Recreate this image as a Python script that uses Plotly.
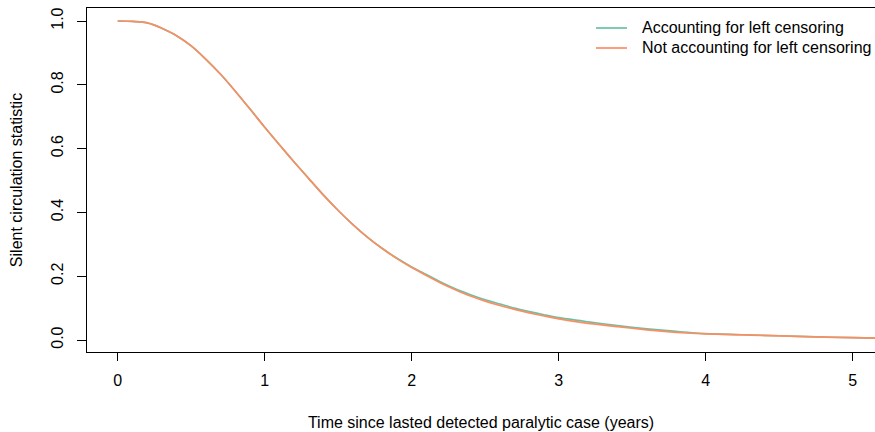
import plotly.graph_objects as go

# Time since last detected paralytic case (years)
time_years = [0.0, 0.1, 0.15, 0.2, 0.25, 0.3, 0.4, 0.5, 0.6, 0.7, 0.8, 0.9, 1.0, 1.1, 1.2, 1.3, 1.4,
              1.5, 1.6, 1.7, 1.8, 1.9, 2.0, 2.1, 2.2, 2.3, 2.4, 2.5, 2.6, 2.7, 2.8, 2.9,
              3.0, 3.2, 3.4, 3.6, 3.8, 4.0, 4.25, 4.5, 4.75, 5.0, 5.2]

not_accounting = [1.000, 0.999, 0.997, 0.994, 0.987, 0.977, 0.954, 0.922, 0.880, 0.833, 0.780, 0.724,
                  0.667, 0.612, 0.558, 0.506, 0.454, 0.406, 0.362, 0.322, 0.287, 0.255,
                  0.227, 0.202, 0.178, 0.157, 0.138, 0.122, 0.108, 0.096, 0.085, 0.0753,
                  0.066, 0.052, 0.042, 0.032, 0.024, 0.019, 0.016, 0.013, 0.0098, 0.0072, 0.0055]

accounting = [1.000, 0.999, 0.997, 0.994, 0.987, 0.977, 0.954, 0.922, 0.880, 0.833, 0.780, 0.724,
              0.667, 0.612, 0.558, 0.506, 0.454, 0.406, 0.362, 0.322, 0.287, 0.256,
              0.229, 0.205, 0.181, 0.160, 0.142, 0.126, 0.113, 0.100, 0.089, 0.0793,
              0.070, 0.057, 0.045, 0.035, 0.027, 0.020, 0.0165, 0.0133, 0.0100, 0.0073, 0.0056]

x_ticks = [0, 1, 2, 3, 4, 5]
y_ticks = [0.0, 0.2, 0.4, 0.6, 0.8, 1.0]
y_tick_labels = ["0.0", "0.2", "0.4", "0.6", "0.8", "1.0"]

series_names = ["Accounting for left censoring", "Not accounting for left censoring"]
series_colors = ["#66C2A5", "#FC8D62"]
series_values = [accounting, not_accounting]

FONT = "Liberation Sans, Arial, sans-serif"
W, H = 875, 432
ML, MR, MT, MB = 87, 0, 8, 80
PW, PH = W - ML - MR, H - MT - MB


def px_to_paper_x(px):
    return (px - ML) / PW


def px_to_paper_y(py):
    return (H - MB - py) / PH


fig = go.Figure()
for name, color, vals in zip(series_names, series_colors, series_values):
    fig.add_trace(go.Scatter(x=time_years, y=vals, mode="lines", name=name,
                             line=dict(color=color, width=1.7, shape="spline", smoothing=0.6),
                             showlegend=False))

# manual legend (top right, like R's legend with bty="n")
legend_rows_px = [28, 48]
for name, color, row in zip(series_names, series_colors, legend_rows_px):
    yp = px_to_paper_y(row)
    fig.add_shape(type="line", xref="paper", yref="paper",
                  x0=px_to_paper_x(596), x1=px_to_paper_x(627), y0=yp, y1=yp,
                  line=dict(color=color, width=1.7))
    fig.add_annotation(xref="paper", yref="paper", x=px_to_paper_x(640), y=yp,
                       text=name, showarrow=False, xanchor="left", yanchor="middle",
                       font=dict(family=FONT, size=16, color="black"))

fig.update_layout(
    width=W, height=H,
    margin=dict(l=ML, r=MR, t=MT, b=MB),
    paper_bgcolor="white", plot_bgcolor="white",
    font=dict(family=FONT, size=16, color="black"),
    showlegend=False,
)

fig.update_xaxes(
    range=[-0.209, 5.152], tickvals=x_ticks, ticktext=[str(v) for v in x_ticks],
    showgrid=False, zeroline=False, showline=True, linecolor="black", linewidth=1,
    mirror=True, ticks="outside", ticklen=8, tickcolor="black", tickwidth=1,
    ticklabelstandoff=6,
    title=dict(text="Time since lasted detected paralytic case (years)", standoff=28,
               font=dict(size=16)),
)
fig.update_yaxes(
    range=[-0.0376, 1.0408], tickvals=y_ticks, ticktext=y_tick_labels,
    tickangle=-90,
    showgrid=False, zeroline=False, showline=True, linecolor="black", linewidth=1,
    mirror=False, ticks="outside", ticklen=9, tickcolor="black", tickwidth=1,
    ticklabelstandoff=8,
    title=dict(text="Silent circulation statistic", standoff=21, font=dict(size=16)),
)

fig.write_html("out.html")
